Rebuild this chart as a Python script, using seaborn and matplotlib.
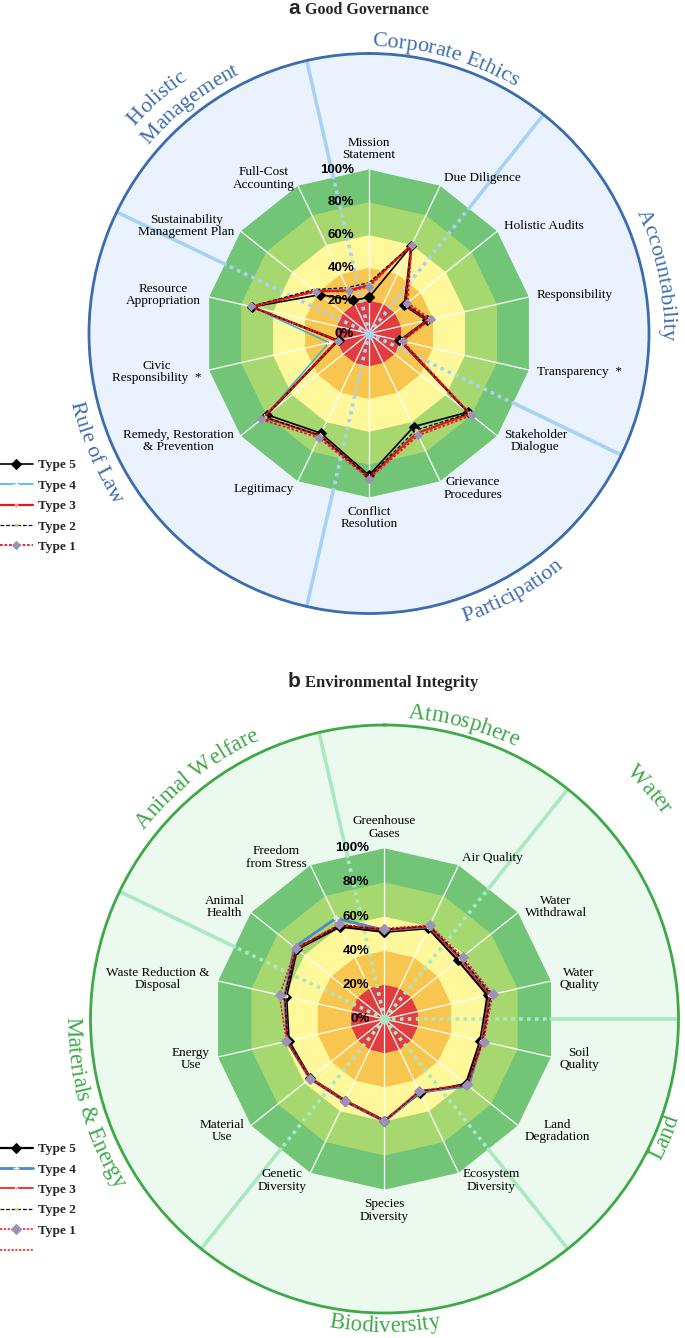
import numpy as np
import pandas as pd
import matplotlib
matplotlib.use("Agg")
import matplotlib.pyplot as plt
import seaborn as sns
from matplotlib.transforms import offset_copy
from matplotlib.font_manager import FontProperties
from matplotlib.lines import Line2D
from matplotlib import font_manager, ft2font

sns.set_theme(style="white")
plt.rcParams["font.family"] = ["Liberation Serif", "DejaVu Serif"]

# ---------------- data ----------------
gov_axes = ["Mission\nStatement", "Due Diligence", "Holistic Audits", "Responsibility",
            "Transparency  *", "Stakeholder\nDialogue", "Grievance\nProcedures",
            "Conflict\nResolution", "Legitimacy", "Remedy, Restoration\n& Prevention",
            "Civic\nResponsibility  *", "Resource\nAppropriation",
            "Sustainability\nManagement Plan", "Full-Cost\nAccounting"]
gov_type5 = [22, 59, 27.5, 36, 19, 77, 63, 86.5, 67.5, 79.5, 19, 73, 38, 22.5]
gov_type4 = [30, 60, 28.5, 37, 20, 78.5, 67, 87.5, 69.5, 82, 25, 73.5, 42, 29.5]
gov_type3 = [29.5, 60, 28.5, 37, 20, 78.5, 67.5, 87.5, 69, 82, 20, 73.5, 41.5, 29]
gov_type2 = [31, 59.5, 28.5, 37.5, 20.5, 78, 65.5, 87.5, 69, 81.5, 20, 74, 43, 31]
gov_type1 = [28.5, 60, 30, 38.5, 21, 80, 69, 88.5, 70.5, 84, 19.5, 74, 41, 28.5]
gov_themes = ["Corporate Ethics", "Accountability", "Participation", "Rule of Law",
              "Holistic", "Management"]
gov_theme_start = [0, 2, 5, 8, 12]

env_axes = ["Greenhouse\nGases", "Air Quality", "Water\nWithdrawal", "Water\nQuality",
            "Soil\nQuality", "Land\nDegradation", "Ecosystem\nDiversity",
            "Species\nDiversity", "Genetic\nDiversity", "Material\nUse", "Energy\nUse",
            "Waste Reduction &\nDisposal", "Animal\nHealth", "Freedom\nfrom Stress"]
env_type5 = [51, 59, 55, 62, 57.5, 61, 48, 59.5, 53, 55.5, 57.5, 59, 65.5, 60]
env_type4 = [52, 60, 57, 63.5, 58.5, 63, 47.5, 60, 53.5, 56, 58.5, 60, 67.5, 65.5]
env_type3 = [52, 60, 56.5, 63, 58.5, 62, 47, 59.5, 53, 55.5, 58.5, 60, 66, 61]
env_type2 = [52.5, 60.5, 57.5, 64, 59, 62, 47, 60, 53.5, 56, 58, 60, 66.5, 61]
env_type1 = [53, 61, 58.5, 65, 59.5, 62, 46.5, 60, 53.5, 56, 59, 63, 66.5, 61.5]
env_themes = ["Atmosphere", "Water", "Land", "Biodiversity", "Materials & Energy",
              "Animal Welfare"]
env_theme_start = [0, 2, 4, 6, 9, 12]

type_labels = ["Type 5", "Type 4", "Type 3", "Type 2", "Type 1"]
pct_ticks = [0, 20, 40, 60, 80, 100]

# ---------------- styling ----------------
band_levels = [100, 80, 60, 40, 20]
band_colors = ["#72C576", "#A7D86F", "#FFF89B", "#F8C64E", "#E13C40"]

DPI = 100
fig = plt.figure(figsize=(6.85, 13.38), dpi=DPI)
FW, FH = 685, 1338


def add_polar(cx, cy, R):
    ax = fig.add_axes([(cx - R) / FW, (FH - cy - R) / FH, 2 * R / FW, 2 * R / FH],
                      projection="polar")
    ax.set_theta_zero_location("N")
    ax.set_theta_direction(-1)
    return ax


_flag = ft2font.LoadFlags.NO_HINTING if hasattr(ft2font, "LoadFlags") else ft2font.LOAD_NO_HINTING


def advances(text, size, family="Liberation Serif", weight="normal"):
    fp = FontProperties(family=family, size=size, weight=weight)
    font = ft2font.FT2Font(font_manager.findfont(fp))
    font.set_size(size, 72)
    out = []
    for ch in text:
        g = font.load_char(ord(ch), flags=_flag)
        out.append(g.linearHoriAdvance / 65536.0)
    return np.array(out) * DPI / 72.0


def curved_text(ax, text, theta_deg, r_px, ppu, outward, size, color):
    adv = advances(text, size)
    centers = np.cumsum(adv) - adv / 2
    W = adv.sum()
    th0 = np.radians(theta_deg)
    for ch, c in zip(text, centers):
        if ch == " ":
            continue
        off = (c - W / 2) / r_px
        if outward:
            th = th0 + off
            rot = -np.degrees(th)
        else:
            th = th0 - off
            rot = 180 - np.degrees(th)
        ax.text(th, r_px / ppu, ch, rotation=rot, rotation_mode="anchor",
                ha="center", va="baseline", fontsize=size, color=color,
                family="Liberation Serif", clip_on=False, zorder=6)


def radar(ax, R_px, r100_px, cat_labels, series, styles, theme_start, themes_spec,
          face, edge, divider, theme_color, theme_size):
    n = len(cat_labels)
    ppu = r100_px / 100.0
    rmax = R_px / ppu
    theta = np.arange(n) * 2 * np.pi / n
    theta_c = np.append(theta, 2 * np.pi)
    step = 2 * np.pi / n

    ax.set_facecolor(face)
    ax.spines["polar"].set_edgecolor(edge)
    ax.spines["polar"].set_linewidth(2.0)
    ax.grid(False)

    for lev, col in zip(band_levels, band_colors):
        ax.fill(theta_c, [lev] * (n + 1), color=col, lw=0, zorder=1)
    for t in theta:
        ax.plot([t, t], [0, 100], color="white", lw=0.9, zorder=1.5)
    for k in theme_start:
        t = (k - 0.5) * step
        ax.plot([t, t], [0, 97.5], color=divider, lw=2.6, ls=(0, (1, 1.2)),
                zorder=1.6, solid_capstyle="butt")
        ax.plot([t, t], [97.5, rmax], color=divider, lw=2.6, zorder=1.6)
    ax.plot([0], [0], "o", color=divider, ms=6, zorder=1.7)

    tr = offset_copy(ax.transData, fig=fig, x=-15, y=0, units="dots")
    for v in pct_ticks:
        ax.text(0, v, f"{v}%", transform=tr, ha="right", va="center",
                fontsize=9.5, fontweight="bold", family="Liberation Sans",
                color="black", zorder=2)

    for t, lab in zip(theta, cat_labels):
        s, c = np.sin(t), np.cos(t)
        ha = "left" if s > 0.1 else ("right" if s < -0.1 else "center")
        va = "center"
        if c > 0.97:
            va = "bottom"
        elif c < -0.97:
            va = "top"
        ax.text(t, 105, lab, ha=ha, va=va, multialignment="center",
                fontsize=9.5, color="black", linespacing=1.05, zorder=5)

    handles = []
    for vals, st in zip(series, styles):
        vals_c = np.append(vals, vals[0])
        df = pd.DataFrame({"theta": theta_c, "value": vals_c})
        before = len(ax.lines)
        sns.lineplot(data=df, x="theta", y="value", ax=ax, sort=False,
                     estimator=None, legend=False, **st)
        handles.append(ax.lines[before])

    for name, th, rpx, outward in themes_spec:
        curved_text(ax, name, th, rpx, ppu, outward, theme_size, theme_color)

    ax.set_xticks([])
    ax.set_yticks([])
    ax.set_xlabel("")
    ax.set_ylabel("")
    ax.set_ylim(0, rmax)
    return handles


# ---------------- panel a ----------------
axa = add_polar(369, 333.5, 280)
styles_a = [
    dict(color="black", lw=1.2, marker="D", ms=5, mec="black", mfc="black", zorder=4),
    dict(color="#2DB4DA", lw=1.1, marker="+", ms=4, mew=0.8, zorder=4.1),
    dict(color="#E8161D", lw=1.6, marker="o", ms=2, mfc="#F2A0B0", mec="#F2A0B0", zorder=4.2),
    dict(color="black", lw=0.9, ls=(0, (3, 1.5)), marker="o", ms=2, mfc="#B7D88A",
         mec="#B7D88A", zorder=4.3),
    dict(color="#E8161D", lw=1.3, ls=(0, (1.5, 1)), marker="D", ms=4.5,
         mfc="#9D91B8", mec="#9D91B8", zorder=4.4),
]
themes_a = [
    ("Corporate Ethics", 15.5, 287, True),
    ("Accountability", 78.5, 294, True),
    ("Participation", 151, 304, False),
    ("Rule of Law", 246.5, 306, False),
    ("Holistic", 318, 313, True),
    ("Management", 322, 290, True),
]
ha_ = radar(axa, 280, 164, gov_axes,
            [gov_type5, gov_type4, gov_type3, gov_type2, gov_type1], styles_a,
            gov_theme_start, themes_a, "#EAF3FD", "#3B6CAE", "#A8D2F5", "#3D6DAE", 16)

# ---------------- panel b ----------------
axb = add_polar(384.5, 1019, 294)
styles_b = [
    dict(color="black", lw=1.6, marker="D", ms=5, mec="black", mfc="black", zorder=4),
    dict(color="#4D88C9", lw=2.0, marker="+", ms=5, mew=1.0, zorder=4.1),
    dict(color="#E8161D", lw=1.2, marker="o", ms=1.5, zorder=4.2),
    dict(color="black", lw=0.9, ls=(0, (3, 1.5)), marker="o", ms=2, mfc="#D9E07A",
         mec="#D9E07A", zorder=4.3),
    dict(color="#E8161D", lw=1.1, ls=(0, (1.5, 1)), marker="D", ms=5,
         mfc="#9D91B8", mec="#9D91B8", zorder=4.4),
]
themes_b = [
    ("Atmosphere", 15.0, 302, True),
    ("Water", 49.0, 345, True),
    ("Land", 113.0, 310, False),
    ("Biodiversity", 180.0, 313, False),
    ("Materials & Energy", 254.0, 318, False),
    ("Animal Welfare", 322.0, 306, True),
]
hb_ = radar(axb, 294, 170.7, env_axes,
            [env_type5, env_type4, env_type3, env_type2, env_type1], styles_b,
            env_theme_start, themes_b, "#EBF9EE", "#3DA947", "#A9E8C0", "#3DAA48", 16.5)

# ---------------- legends ----------------
legprop = FontProperties(family="Liberation Serif", weight="bold", size=9.5)
fig.legend(handles=ha_, labels=type_labels, loc="center left",
           bbox_to_anchor=(0.0, 1 - 506 / FH), frameon=False, prop=legprop,
           handlelength=2.5, handletextpad=0.4, labelspacing=0.62,
           borderpad=0, borderaxespad=0)
stray = Line2D([], [], color="#E8161D", lw=1.1, ls=(0, (1.5, 1)))
fig.legend(handles=hb_ + [stray], labels=type_labels + [""], loc="upper left",
           bbox_to_anchor=(0.0, 1 - 1143 / FH), frameon=False, prop=legprop,
           handlelength=2.5, handletextpad=0.4, labelspacing=0.62,
           borderpad=0, borderaxespad=0)

# ---------------- titles ----------------
fig.text(300 / FW, 1 - 14 / FH, "a", fontsize=15, fontweight="bold",
         family="Liberation Sans", ha="right", va="baseline")
fig.text(305 / FW, 1 - 14 / FH, "Good Governance", fontsize=11.5, fontweight="bold",
         family="Liberation Serif", ha="left", va="baseline")
fig.text(300 / FW, 1 - 687 / FH, "b", fontsize=15, fontweight="bold",
         family="Liberation Sans", ha="right", va="baseline")
fig.text(305 / FW, 1 - 687 / FH, "Environmental Integrity", fontsize=12,
         fontweight="bold", family="Liberation Serif", ha="left", va="baseline")

fig.savefig("out.png", dpi=DPI, facecolor="white")
